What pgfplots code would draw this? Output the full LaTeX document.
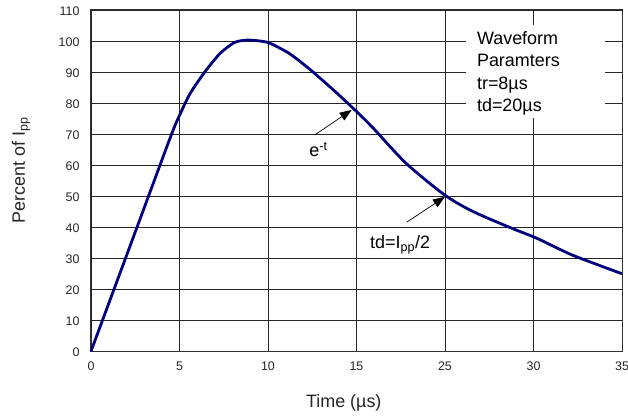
\documentclass[border=0pt]{standalone}
\usepackage{fontspec}
\setmainfont{Liberation Sans}
\usepackage{pgfplots}
\pgfplotsset{compat=1.18}
\usetikzlibrary{arrows.meta}
\definecolor{wave}{HTML}{00007F}
\tikzset{
  ann/.style={font=\fontsize{18}{21}\selectfont, inner sep=0pt},
  ptr/.style={-{Triangle[length=12bp,width=9bp]}, line width=0.7bp, black},
}

\begin{document}
\begin{tikzpicture}
\begin{axis}[
  scale only axis, width=531bp, height=341.3bp, anchor=south west, at={(0,0)},
  xmin=0, xmax=30, ymin=0, ymax=110,
  xtick={0,5,10,15,20,25,30}, xticklabels={0,5,10,15,25,30,35},
  ytick={0,10,...,110},
  major tick length=0pt,
  xmajorgrids, ymajorgrids,
  major grid style={black!85, line width=0.8bp},
  axis line style={black!80, line width=1bp},
  /pgf/number format/assume math mode=true,
  tick label style={font=\fontsize{12.5}{14}\selectfont, text=black!85},
  xticklabel style={yshift=-7bp},
  yticklabel style={xshift=-8bp, yshift=-1bp},
  xlabel={Time (µs)}, ylabel={Percent of I\textsubscript{pp}},
  label style={font=\fontsize{18}{21}\selectfont, text=black!85},
  xlabel style={at={(axis description cs:0.476,-0.1661)}, anchor=base},
  ylabel style={at={(axis description cs:-0.1243,0.53)}, anchor=base},
  clip=false,
]
  \addplot[wave, line width=2.8bp, smooth, tension=0.45] coordinates {
    (0,0) (2.25,34.6) (4.5,69.2) (5.0,76) (5.6,83.1) (6.44,90.1) (7.29,96)
    (8.1,99.5) (8.8,100.3) (9.55,100) (10.1,99.3) (11.2,96) (12.4,90.7)
    (13.7,84.2) (14.5,80) (15.2,76.2) (15.95,71.9) (17.8,60.6) (20,50.3)
    (21.6,45) (23.8,39.6) (25.2,36.4) (27.2,31) (30,25)};
  \fill[white] (axis cs:21.2,75.2) rectangle (axis cs:29.05,105.2);
  \node[ann, anchor=base west] at (axis cs:21.8,98.9) {Waveform};
  \node[ann, anchor=base west] at (axis cs:21.8,91.7) {Paramters};
  \node[ann, anchor=base west] at (axis cs:21.8,84.5) {tr=8µs};
  \node[ann, anchor=base west] at (axis cs:21.8,77.2) {td=20µs};
  \draw[ptr] (axis cs:12.66,69.8) -- (axis cs:14.73,77.8);
  \node[ann, anchor=base west] at (axis cs:12.33,62.7) {e\textsuperscript{-t}};
  \draw[ptr] (axis cs:17.84,41.6) -- (axis cs:20.0,49.8);
  \node[ann, anchor=base west] at (axis cs:15.76,33) {td=I\textsubscript{pp}/2};
\end{axis}
\pgfresetboundingbox
\path[use as bounding box] (-91bp,-64.7bp) rectangle (537bp,351.3bp);
\end{tikzpicture}
\end{document}
